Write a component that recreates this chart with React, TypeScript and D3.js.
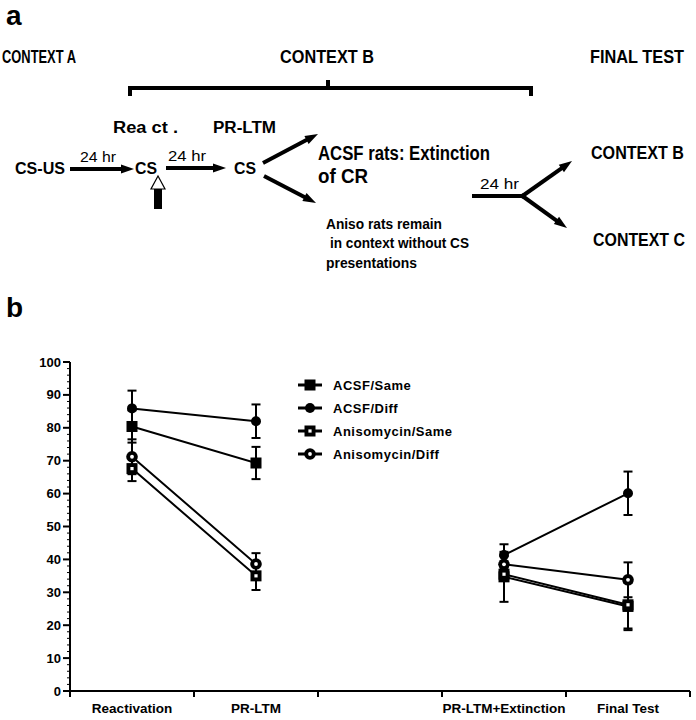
import React from "react";
import * as d3 from "d3";

const categories = ["Reactivation", "PR-LTM", "", "PR-LTM+Extinction", "Final Test"];
const seriesNames = ["ACSF/Same", "ACSF/Diff", "Anisomycin/Same", "Anisomycin/Diff"];
const markerTypes = ["square", "circle", "openSquare", "openCircle"];
const acsfSame = [80.4, 69.3, null, 34.7, 25.7];
const acsfSameSem = [4.9, 4.9, null, 7.6, 7.2];
const acsfDiff = [85.9, 82.0, null, 41.3, 60.1];
const acsfDiffSem = [5.4, 5.1, null, 3.3, 6.6];
const anisoSame = [67.6, 35.0, null, 35.5, 26.2];
const anisoSameSem = [3.8, 4.3, null, 2.0, 7.2];
const anisoDiff = [71.2, 38.6, null, 38.5, 33.8];
const anisoDiffSem = [5.3, 3.3, null, 2.5, 5.3];
const yTicks = [0, 10, 20, 30, 40, 50, 60, 70, 80, 90, 100];

const FONT = "'Liberation Sans', Arial, sans-serif";

function Marker({ type, cx, cy }: { type: string; cx: number; cy: number }) {
  if (type === "square" || type === "openSquare") {
    return (
      <g>
        <rect x={cx - 5.5} y={cy - 5.5} width={11} height={11} fill="#000" />
        {type === "openSquare" && <rect x={cx - 1.6} y={cy - 1.6} width={3.2} height={3.2} fill="#fff" />}
      </g>
    );
  }
  return (
    <g>
      <circle cx={cx} cy={cy} r={type === "openCircle" ? 5.8 : 5} fill="#000" />
      {type === "openCircle" && <circle cx={cx} cy={cy} r={1.9} fill="#fff" />}
    </g>
  );
}

function Arrow({ x1, y1, x2, y2, w = 4, head = 13, hw = 4.5 }: any) {
  const dx = x2 - x1, dy = y2 - y1;
  const len = Math.sqrt(dx * dx + dy * dy);
  const ux = dx / len, uy = dy / len;
  const bx = x2 - ux * head, by = y2 - uy * head;
  const px = -uy, py = ux;
  return (
    <g>
      <line x1={x1} y1={y1} x2={bx + ux * 1} y2={by + uy * 1} stroke="#000" strokeWidth={w} />
      <polygon points={`${x2},${y2} ${bx + px * hw},${by + py * hw} ${bx - px * hw},${by - py * hw}`} fill="#000" />
    </g>
  );
}

function T({ x, y, children, size = 16, len, weight = "bold", anchor = "start" }: any) {
  return (
    <text
      x={x}
      y={y}
      fontFamily={FONT}
      fontSize={size}
      fontWeight={weight}
      textAnchor={anchor}
      dominantBaseline="central"
      textLength={len}
      lengthAdjust={len ? "spacingAndGlyphs" : undefined}
      style={{ whiteSpace: "pre" }}
    >
      {children}
    </text>
  );
}

export default function App() {
  const W = 696, H = 720;
  const x = d3.scaleBand<string>().domain(categories).range([70, 690]).padding(0);
  const bw = x.bandwidth();
  const cx = (i: number) => (x(categories[i]) as number) + bw / 2;
  const y = d3.scaleLinear().domain([0, 100]).range([691, 362]);

  const series = [
    { name: seriesNames[0], type: markerTypes[0], v: acsfSame, e: acsfSameSem },
    { name: seriesNames[1], type: markerTypes[1], v: acsfDiff, e: acsfDiffSem },
    { name: seriesNames[2], type: markerTypes[2], v: anisoSame, e: anisoSameSem },
    { name: seriesNames[3], type: markerTypes[3], v: anisoDiff, e: anisoDiffSem },
  ];

  const minor = d3.range(0, 101, 2).filter((t) => t % 10 !== 0);

  const segs = (vals: (number | null)[]) => {
    const pts = vals.map((v, i) => (v == null ? null : [cx(i), y(v)] as [number, number]));
    const line = d3.line<[number, number] | null>().defined((d) => d != null).x((d) => d![0]).y((d) => d![1]);
    return line(pts);
  };

  const boundaries = categories.map((c) => x(c) as number).concat([690]);

  return (
    <svg width={W} height={H} style={{ position: "absolute", left: 0, top: 0, background: "#fff" }}>
      <rect x={0} y={0} width={W} height={H} fill="#fff" />
      {/* Panel a */}
      <T x={6} y={15} size={28}>a</T>
      <T x={2} y={57} size={18} len={74}>CONTEXT A</T>
      <T x={280} y={57} size={18} len={94}>CONTEXT B</T>
      <T x={590} y={57} size={18} len={94}>FINAL TEST</T>
      {/* bracket */}
      <path d="M130,96 V88 H531 V96" fill="none" stroke="#000" strokeWidth={4} />
      <line x1={328} y1={80} x2={328} y2={88} stroke="#000" strokeWidth={4} />

      <T x={113} y={127} size={16} len={65}>{"Rea ct ."}</T>
      <T x={213} y={127} size={16} len={63}>PR-LTM</T>

      <T x={15} y={168} size={16} len={50}>CS-US</T>
      <T x={80} y={156} size={15} weight="normal" len={36}>24 hr</T>
      <Arrow x1={70} y1={169} x2={134} y2={169} />
      <T x={135} y={168} size={16} len={22}>CS</T>
      <T x={168} y={155} size={15} weight="normal" len={38}>24 hr</T>
      <Arrow x1={166} y1={168} x2={226} y2={168} />
      <T x={234} y={168} size={16} len={22}>CS</T>

      {/* up-pointing marker under first CS */}
      <rect x={154} y={189} width={8} height={20} fill="#000" />
      <polygon points="158,176 165,189 151,189" fill="#fff" stroke="#000" strokeWidth={1.2} />

      <Arrow x1={263} y1={163} x2={318} y2={134} />
      <Arrow x1={264} y1={176} x2={316} y2={203} />

      <T x={318} y={153} size={20} len={172}>ACSF rats: Extinction</T>
      <T x={318} y={176} size={20} len={50}>of CR</T>
      <T x={326} y={223} size={15} len={116}>Aniso rats remain</T>
      <T x={330} y={242} size={15} len={139}>in context without CS</T>
      <T x={326} y={262} size={15} len={91}>presentations</T>

      <T x={480} y={183} size={15} weight="normal" len={39}>24 hr</T>
      <line x1={472} y1={196} x2={523} y2={196} stroke="#000" strokeWidth={4} />
      <Arrow x1={521} y1={197} x2={572} y2={161} />
      <Arrow x1={521} y1={195} x2={567} y2={228} />
      <T x={591} y={153} size={18} len={93}>CONTEXT B</T>
      <T x={593} y={240} size={18} len={92}>CONTEXT C</T>

      {/* Panel b */}
      <T x={6} y={307} size={28}>b</T>

      {/* y axis */}
      <line x1={70} y1={362} x2={70} y2={692} stroke="#000" strokeWidth={2} />
      {yTicks.map((t) => (
        <g key={t}>
          <line x1={63} y1={y(t)} x2={70} y2={y(t)} stroke="#000" strokeWidth={2} />
          <T x={61} y={y(t)} size={13} anchor="end">{String(t)}</T>
        </g>
      ))}
      {minor.map((t) => (
        <line key={t} x1={67} y1={y(t)} x2={70} y2={y(t)} stroke="#000" strokeWidth={1} />
      ))}
      {/* x axis */}
      <line x1={69} y1={691} x2={690} y2={691} stroke="#000" strokeWidth={2} />
      {boundaries.map((b, i) => (
        <line key={i} x1={b} y1={691} x2={b} y2={697} stroke="#000" strokeWidth={2} />
      ))}
      {categories.map((c, i) =>
        c ? (
          <T key={c} x={cx(i)} y={708} size={13.5} anchor="middle">{c}</T>
        ) : null
      )}

      {/* lines */}
      {series.map((s) => (
        <path key={s.name + "l"} d={segs(s.v) || ""} fill="none" stroke="#000" strokeWidth={2} />
      ))}
      {/* error bars */}
      {series.map((s) =>
        s.v.map((v, i) =>
          v == null ? null : (
            <g key={s.name + i + "e"}>
              <line x1={cx(i)} x2={cx(i)} y1={y(v + (s.e[i] as number))} y2={y(v - (s.e[i] as number))} stroke="#000" strokeWidth={2} />
              <line x1={cx(i) - 4.5} x2={cx(i) + 4.5} y1={y(v + (s.e[i] as number))} y2={y(v + (s.e[i] as number))} stroke="#000" strokeWidth={2} />
              <line x1={cx(i) - 4.5} x2={cx(i) + 4.5} y1={y(v - (s.e[i] as number))} y2={y(v - (s.e[i] as number))} stroke="#000" strokeWidth={2} />
            </g>
          )
        )
      )}
      {/* markers */}
      {series.map((s) =>
        s.v.map((v, i) => (v == null ? null : <Marker key={s.name + i + "m"} type={s.type} cx={cx(i)} cy={y(v)} />))
      )}

      {/* legend */}
      {series.map((s, i) => {
        const ly = 385 + i * 23;
        return (
          <g key={s.name + "lg"}>
            <line x1={298} x2={322} y1={ly} y2={ly} stroke="#000" strokeWidth={3} />
            <Marker type={s.type} cx={310} cy={ly} />
            <text x={333} y={ly} fontFamily={FONT} fontSize={13} fontWeight="bold" dominantBaseline="central" letterSpacing={0.5}>
              {s.name}
            </text>
          </g>
        );
      })}
    </svg>
  );
}
